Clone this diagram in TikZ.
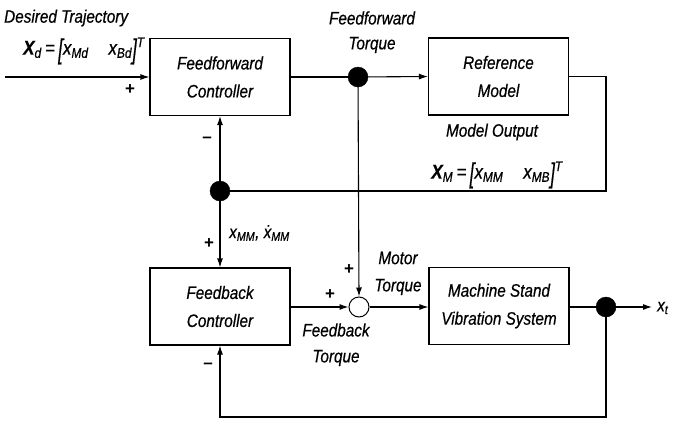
\documentclass[tikz,border=0pt]{standalone}
\usepackage{fontspec}
\setmainfont{Liberation Sans}
\newfontfamily\lfont[FakeStretch=0.85,FakeBold=0.6]{Liberation Sans}
\usetikzlibrary{arrows.meta,positioning}
\newcommand{\vsb}[2]{\textit{#1}\textsubscript{\textit{#2}}}
\newcommand{\tbrk}[1]{\raisebox{-0.2em}{\scalebox{1}[1.4]{#1}}}
\begin{document}
\begin{tikzpicture}[x=1pt,y=-1pt,
  blk/.style={draw,line width=1.1pt,minimum width=140pt,minimum height=77pt,align=center,font=\fontsize{18}{28}\lfont\itshape},
  lbl/.style={font=\fontsize{18}{21}\lfont\itshape,align=center,inner sep=0pt},
  sgn/.style={font=\fontsize{17}{18}\selectfont\bfseries,inner sep=0pt},
  bdot/.style={circle,fill=black,draw=black,minimum size=20pt,inner sep=0pt},
  wdot/.style={circle,fill=white,draw=black,line width=1pt,minimum size=20pt,inner sep=0pt},
  conn/.style={line width=1.1pt},
  arr/.style={conn,-{Latex[length=9pt,width=6pt]}}]
\useasboundingbox (0,0) rectangle (678,421);
% blocks
\node[blk] (ff) at (220,77) {Feedforward\\Controller};
\node[blk] (ref) at (498.5,76.5) {Reference\\Model};
\node[blk] (fb) at (220,306.5) {Feedback\\Controller};
\node[blk] (ms) at (499,306) {Machine Stand\\Vibration System};
% junctions
\node[bdot] (d1) at (358,77) {};
\node[bdot] (d2) at (220,191) {};
\node[wdot] (sum) at (359,307) {};
\node[bdot] (d3) at (606,307) {};
% coordinates
\coordinate (in) at (5,77);
\coordinate (c2) at (606,191);
\coordinate (out) at (652,307);
\coordinate (c3) at (606,417);
\coordinate (c4) at (220,417);
% connectors
\draw[arr] (in) -- (ff.west);
\draw[conn] (ff.east) -- (d1);
\draw[arr] (d1) -- (ref.west);
\draw[conn] (ref.east) -| (c2) -- (d2);
\draw[arr] (d2) -- (ff.south);
\draw[arr] (d2) -- (fb.north);
\draw[arr] (d1) -- (sum.north);
\draw[arr] (fb.east |- sum) -- (sum.west);
\draw[arr] (sum.east) -- (ms.west |- sum);
\draw[conn] (ms.east |- d3) -- (d3);
\draw[arr] (d3) -- (out);
\draw[arr] (d3) -- (c3) -- (c4) -- (fb.south);
% labels
\node[lbl,anchor=west] (t1) at (4,18) {Desired Trajectory};
\node[lbl,anchor=west] (t2) at (23,51) {\fontsize{20}{22}\selectfont\textbf{\textit{X}}\textsubscript{\textit{d}}\,=\,\tbrk{[}\vsb{x}{Md}\quad\vsb{x}{Bd}\tbrk{]}\textsuperscript{\textit{T}}};
\node[sgn] (p1) at (130,90) {+};
\node[lbl] (t3) at (372,18) {Feedforward};
\node[lbl] (t4) at (372,45) {Torque};
\node[lbl] (t5) at (492,132) {Model Output};
\node[lbl] (t6) at (497,175) {\fontsize{20}{22}\selectfont\textbf{\textit{X}}\textsubscript{\textit{M}}\,=\,\tbrk{[}\vsb{x}{MM}\quad\vsb{x}{MB}\tbrk{]}\textsuperscript{\textit{T}}};
\node[sgn] (m1) at (207,140) {\textendash};
\node[lbl,anchor=west] (t7) at (229,233) {\vsb{x}{MM}, \vsb{ẋ}{MM}};
\node[sgn] (p2) at (209,244) {+};
\node[sgn] (p3) at (349,270) {+};
\node[lbl] (t8) at (398,258) {Motor};
\node[lbl] (t9) at (398,287) {Torque};
\node[sgn] (p4) at (330,295) {+};
\node[lbl] (t10) at (336,330) {Feedback};
\node[lbl] (t11) at (336,358) {Torque};
\node[sgn] (m2) at (208,366) {\textendash};
\node[lbl,anchor=west] (t12) at (657,308) {\vsb{x}{t}};
\end{tikzpicture}
\end{document}
